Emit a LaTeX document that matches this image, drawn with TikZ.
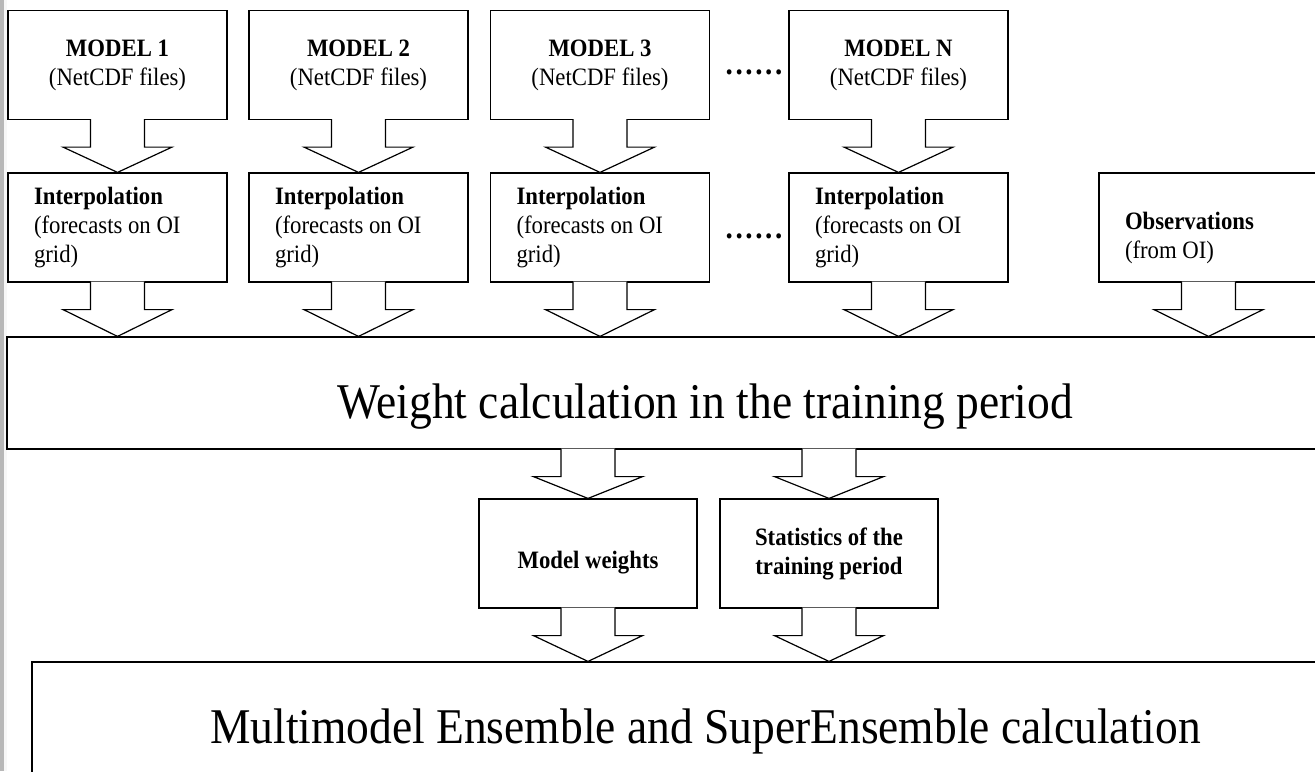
\documentclass[tikz,border=0pt]{standalone}
\usepackage{fontspec}
\setmainfont{Liberation Serif}[FakeStretch=0.91]
\usetikzlibrary{calc}

\newcommand{\smallfnt}{\fontsize{12.5}{14.5}\selectfont}
\newcommand{\bigfnt}{\fontsize{25}{30}\selectfont}
\newcommand{\dotrow}{\textbf{.\hspace{1.3pt}.\hspace{1.3pt}.\hspace{1.3pt}.\hspace{1.3pt}.\hspace{1.3pt}.}}
\newcommand{\blockarrow}[2]{%
	\draw[fatarrow] ($#1+(-27,-1)$) -- ($#1+(-27,27)$) -- ($#1+(-54.5,27)$) -- #2
		-- ($#1+(54.5,27)$) -- ($#1+(27,27)$) -- ($#1+(27,-1)$);}

\tikzset{
	box/.style={draw, line width=0.6pt, fill=white, minimum width=109.5pt, minimum height=54.5pt, inner sep=0pt, font=\smallfnt},
	modelbox/.style={box, align=center},
	interpbox/.style={box, text width=83.5pt, inner xsep=13pt, align=flush left},
	resultbox/.style={box, minimum width=109pt, align=center},
	bigbox/.style={draw, line width=0.6pt, inner sep=0pt, font=\bigfnt, text height=25pt, text depth=0pt},
	dotsrow/.style={anchor=base, inner sep=0pt, font=\fontsize{16}{18}\selectfont},
	fatarrow/.style={draw, line width=0.6pt, fill=white, line join=miter}
}

\begin{document}
\begin{tikzpicture}[x=0.5pt, y=-0.5pt]

	\useasboundingbox (0,0) rectangle (1315,771);
	\fill[black!28] (0,0) rectangle (3.5,771);
	\fill[black!3] (3.5,0) rectangle (7,771);

	\node (m1) at (117.5,65) [modelbox] {\textbf{MODEL 1}\\(NetCDF files)};
	\node (m2) at (358.5,65) [modelbox] {\textbf{MODEL 2}\\(NetCDF files)};
	\node (m3) at (600,65) [modelbox] {\textbf{MODEL 3}\\(NetCDF files)};
	\node (mN) at (898.5,65) [modelbox] {\textbf{MODEL N}\\(NetCDF files)};

	\foreach \n/\x in {1/117.5, 2/358.5, 3/600, N/898.5}
	{
		\node (i\n) at (\x,227.5) [interpbox] {\textbf{Interpolation}\\(forecasts on OI\\grid)};
	}
	\node (obs) at (1208.5,227.5) [interpbox] {\rule{0pt}{19.5pt}\textbf{Observations}\\(from OI)};

	\node (dotsA) at (754,74) [dotsrow] {\dotrow};
	\node (dotsB) at (754,238) [dotsrow] {\dotrow};

	\node (weight) at (705,393) [bigbox, minimum width=698pt, minimum height=56pt] {Weight calculation in the training period};

	\node (mw) at (588,553.5) [resultbox, text height=14.5pt, text depth=0pt] {\textbf{Model weights}};
	\node (stats) at (829,553.5) [resultbox] {\textbf{Statistics of the}\\\textbf{training period}};

	\node (multi) at (705.5,728) [bigbox, minimum width=673.5pt, minimum height=66pt, text height=15pt] {Multimodel Ensemble and SuperEnsemble calculation};

	\foreach \n in {1,2,3,N}
	{
		\blockarrow{(m\n.south)}{(i\n.north)}
		\blockarrow{(i\n.south)}{(i\n.south |- weight.north)}
	}
	\blockarrow{(obs.south)}{(obs.south |- weight.north)}
	\blockarrow{(mw.north |- weight.south)}{(mw.north)}
	\blockarrow{(stats.north |- weight.south)}{(stats.north)}
	\blockarrow{(mw.south)}{(mw.south |- multi.north)}
	\blockarrow{(stats.south)}{(stats.south |- multi.north)}

\end{tikzpicture}
\end{document}
